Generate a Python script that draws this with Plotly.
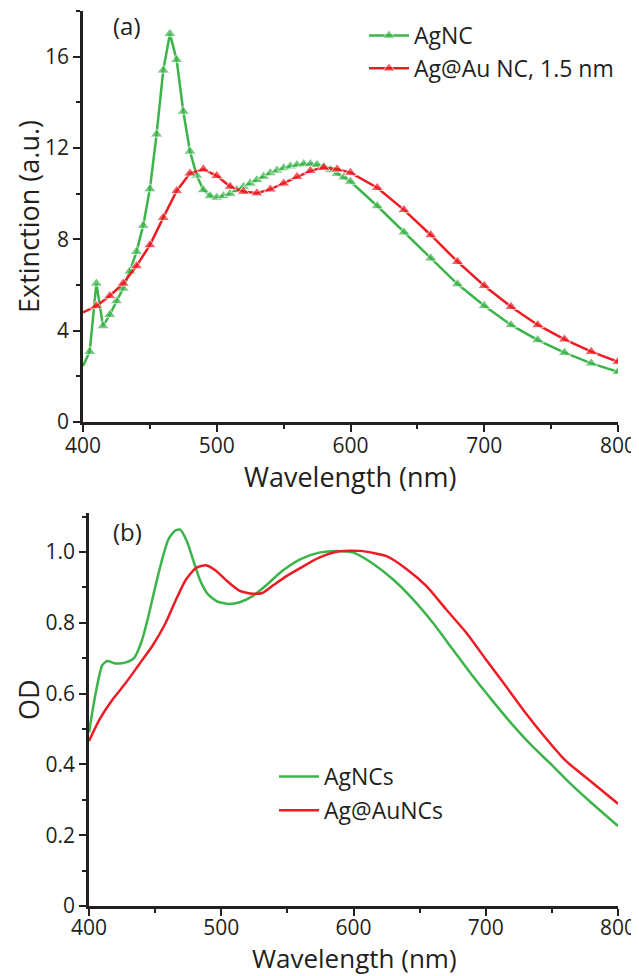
import plotly.graph_objects as go

# ---------------- data: panel (a) ----------------
wl_a_green = [400, 405, 410, 415, 420, 425, 430, 435, 440, 445, 450, 455, 460, 465, 470,
              475, 480, 485, 490, 495, 500, 505, 510, 515, 520, 525, 530, 535, 540, 545,
              550, 555, 560, 565, 570, 575, 580, 585, 590, 595, 600,
              620, 640, 660, 680, 700, 720, 740, 760, 780, 800]
ext_agnc = [2.45, 3.08, 6.07, 4.2, 4.7, 5.3, 5.85, 6.6, 7.46, 8.6, 10.2, 12.6, 15.4, 17.0, 15.86,
            13.6, 11.85, 10.8, 10.16, 9.9, 9.83, 9.9, 10.0, 10.16, 10.3, 10.45, 10.6, 10.75, 10.9, 11.02,
            11.12, 11.2, 11.26, 11.3, 11.3, 11.27, 11.2, 11.04, 10.88, 10.72, 10.53,
            9.46, 8.31, 7.17, 6.04, 5.09, 4.25, 3.59, 3.04, 2.57, 2.2]

wl_a_red = [400, 410, 420, 430, 440, 450, 460, 470, 480, 490, 500, 510, 520, 530, 540,
            550, 560, 570, 580, 590, 600, 620, 640, 660, 680, 700, 720, 740, 760, 780, 800]
ext_agau = [4.8, 5.08, 5.52, 6.07, 6.83, 7.75, 8.95, 10.12, 10.89, 11.07, 10.78, 10.31, 10.09, 10.02, 10.19,
            10.45, 10.74, 11.0, 11.14, 11.07, 10.92, 10.26, 9.29, 8.19, 7.02, 5.97, 5.05, 4.25, 3.62, 3.08, 2.64]

# ---------------- data: panel (b) ----------------
wl_b_green = [400, 405, 410, 414, 420, 428, 434, 440, 445, 450, 455, 460, 465, 469, 474, 479, 484,
              490, 497, 506, 514, 524, 534, 546, 560, 574, 587, 600, 615, 630, 645, 660, 675,
              690, 705, 720, 735, 750, 765, 780, 800]
od_agncs = [0.49, 0.60, 0.68, 0.692, 0.685, 0.688, 0.70, 0.75, 0.82, 0.90, 0.975, 1.035, 1.06, 1.063,
            1.03, 0.975, 0.92, 0.88, 0.86, 0.853, 0.858, 0.876, 0.906, 0.946, 0.98, 0.998, 1.003, 0.998,
            0.966, 0.922, 0.866, 0.80, 0.725, 0.65, 0.58, 0.513, 0.452, 0.398, 0.342, 0.291, 0.226]

wl_b_red = [400, 408, 418, 428, 438, 448, 458, 466, 473, 481, 489, 496, 504, 514, 524, 531, 539,
            549, 559, 574, 589, 605, 625, 640, 655, 670, 685, 700, 715, 730, 745, 760, 780, 800]
od_agau = [0.466, 0.527, 0.584, 0.631, 0.683, 0.735, 0.80, 0.867, 0.92, 0.955, 0.962, 0.947, 0.919,
           0.89, 0.882, 0.884, 0.905, 0.931, 0.953, 0.984, 1.002, 1.003, 0.988, 0.952, 0.904, 0.838,
           0.773, 0.697, 0.622, 0.546, 0.476, 0.412, 0.350, 0.289]

names_a = ["AgNC", "Ag@Au NC, 1.5 nm"]
names_b = ["AgNCs", "Ag@AuNCs"]
x_ticks = [400, 500, 600, 700, 800]
ya_ticks = [0, 4, 8, 12, 16]
yb_ticks = [0, 0.2, 0.4, 0.6, 0.8, 1.0]
yb_ticklabels = ["0", "0.2", "0.4", "0.6", "0.8", "1.0"]
x_title = "Wavelength (nm)"
ya_title = "Extinction (a.u.)"
yb_title = "OD"

GREEN = "#3BB44A"
RED = "#ED1C24"
INK = "#231F20"
FONT = "Open Sans"

# page has an 8px body margin, so the figure is sized to fit the 639x976 window
OFF = 8
W, H = 639 - OFF, 976 - OFF


def fx(px):
    return (px - OFF) / W


def fy(py):
    return (H - (py - OFF)) / H


fig = go.Figure()

fig.add_trace(go.Scatter(
    x=wl_a_green, y=ext_agnc, name=names_a[0], mode="lines+markers", legendgroup="a1",
    line=dict(color=GREEN, width=2.5),
    marker=dict(symbol="triangle-up", size=[0 if w == 400 else 11 for w in wl_a_green], color=GREEN),
    xaxis="x", yaxis="y", legend="legend"))
fig.add_trace(go.Scatter(
    x=wl_a_red, y=ext_agau, name=names_a[1], mode="lines+markers", legendgroup="a2",
    line=dict(color=RED, width=2.5),
    marker=dict(symbol="triangle-up", size=[0 if w == 400 else 11 for w in wl_a_red], color=RED),
    xaxis="x", yaxis="y", legend="legend"))

fig.add_trace(go.Scatter(
    x=wl_b_green, y=od_agncs, name=names_b[0], mode="lines", legendgroup="b1",
    line=dict(color=GREEN, width=2.5, shape="spline", smoothing=0.6),
    xaxis="x2", yaxis="y2", legend="legend2"))
fig.add_trace(go.Scatter(
    x=wl_b_red, y=od_agau, name=names_b[1], mode="lines", legendgroup="b2",
    line=dict(color=RED, width=2.5, shape="spline", smoothing=0.6),
    xaxis="x2", yaxis="y2", legend="legend2"))

axis_common = dict(showline=True, linecolor=INK, linewidth=2.5, mirror=False, showgrid=False,
                   zeroline=False, ticks="outside", ticklen=7, tickwidth=2, tickcolor=INK,
                   automargin=False,
                   tickfont=dict(family=FONT, size=21, color=INK))
minor_common = dict(ticks="outside", ticklen=4, tickwidth=2, tickcolor=INK)
legend_font = dict(family=FONT, size=23, color=INK)


def label(text, px, py, angle=0, size=27, anchor="center"):
    return dict(text=text, x=fx(px), y=fy(py), xref="paper", yref="paper",
                xanchor=anchor, yanchor="middle", showarrow=False, textangle=angle,
                font=dict(family=FONT, size=size, color=INK))


fig.update_layout(
    width=W, height=H,
    margin=dict(l=0, r=0, t=0, b=0),
    paper_bgcolor="white", plot_bgcolor="white",
    font=dict(family=FONT, color=INK),
    xaxis=dict(domain=[fx(83), fx(618)], range=[400, 800], tickvals=x_ticks,
               minor=dict(dtick=50, **minor_common), ticklabelstandoff=-4,
               anchor="y", **axis_common),
    yaxis=dict(domain=[fy(422), fy(11)], range=[0, 18], tickvals=ya_ticks,
               minor=dict(tickvals=[2, 6, 10, 14, 18], **minor_common),
               anchor="x", **axis_common),
    xaxis2=dict(domain=[fx(89), fx(618)], range=[400, 800], tickvals=x_ticks,
                minor=dict(dtick=50, **minor_common), ticklabelstandoff=-6,
                anchor="y2", **axis_common),
    yaxis2=dict(domain=[fy(906), fy(513)], range=[0, 1.11], tickvals=yb_ticks, ticktext=yb_ticklabels,
                minor=dict(tickvals=[0.1, 0.3, 0.5, 0.7, 0.9, 1.1], **minor_common),
                anchor="x2", **axis_common),
    legend=dict(x=fx(364), y=fy(14), xanchor="left", yanchor="top",
                bgcolor="rgba(0,0,0,0)", font=legend_font,
                itemwidth=40, tracegroupgap=0),
    legend2=dict(x=fx(274), y=fy(755), xanchor="left", yanchor="top",
                 bgcolor="rgba(0,0,0,0)", font=legend_font,
                 itemwidth=40, tracegroupgap=1),
    annotations=[
        label("(a)", 111, 26, size=24, anchor="left"),
        label("(b)", 111, 531, size=24, anchor="left"),
        label(x_title, 350, 476),
        label(x_title, 354, 958, size=26),
        label(ya_title, 28, 217, angle=-90),
        label(yb_title, 28, 700, angle=-90),
    ],
)

fig.write_html("out.html")
